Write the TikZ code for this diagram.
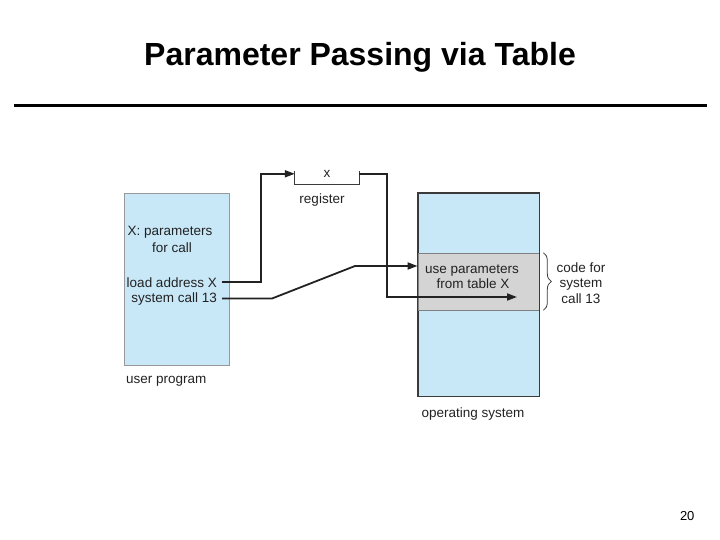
\documentclass[tikz,border=0pt]{standalone}
\usepackage{fontspec}
\setmainfont{Liberation Sans}
\usepackage{tikz}
\usetikzlibrary{arrows.meta}
\usetikzlibrary{decorations.pathreplacing}
\definecolor{memblue}{HTML}{C8E8F8}
\definecolor{bandgray}{HTML}{D4D4D4}
\definecolor{edgegray}{HTML}{3A3A3A}
\definecolor{inkgray}{HTML}{222222}

\begin{document}
\begin{tikzpicture}[x=1pt,y=-1pt,
	wire/.style={line width=1.8pt,draw=inkgray},
	tip/.style={-{Triangle[length=10pt,width=7pt]}},
	mem/.style={draw=edgegray,line width=0.8pt,fill=memblue,inner sep=0pt},
	lbl/.style={inner sep=0pt,text=inkgray,font=\fontsize{13.5}{16}\selectfont}]
	\useasboundingbox (0,0) rectangle (720,540);

	%title and rule
	\node[anchor=base,font=\bfseries\fontsize{32}{38}\selectfont] (title) at (360,66) {Parameter Passing via Table};
	\draw[line width=3.5pt] (14,105.5)--(707,105.5);

	%user program
	\node[mem,draw=gray!80,minimum width=105pt,minimum height=172pt] (user) at (176.5,279) {};
	\node[lbl,anchor=base] (xpar) at (170,236) {X: parameters};
	\node[lbl,anchor=base] (forcall) at (172,252) {for call};
	\node[lbl,anchor=base east] (load) at (217,287) {load address X};
	\node[lbl,anchor=base east] (syscall) at (217,302) {system call 13};
	\node[lbl,anchor=base west] (userlbl) at (126,383) {user program};

	%register
	\node[minimum width=64pt,minimum height=13pt,inner sep=0pt] (reg) at (327,177.5) {};
	\draw[line width=1pt,draw=edgegray] (reg.north west)--(reg.south west)--(reg.south east)--(reg.north east);
	\node[lbl,anchor=base] (regx) at (327,178) {x};
	\node[lbl,anchor=base] (reglbl) at (322,204) {register};

	%operating system
	\node[mem,minimum width=121pt,minimum height=203pt] (os) at (478.5,294.5) {};
	\node[mem,fill=bandgray,draw=gray,line width=0.6pt,minimum width=121pt,minimum height=57pt] (band) at (478.5,281.5) {};
	\draw[draw=edgegray,line width=0.8pt] (os.north west) rectangle (os.south east);
	\node[lbl,anchor=base] (usepar) at (472,273) {use parameters};
	\node[lbl,anchor=base] (fromtab) at (473,288) {from table X};
	\node[lbl,anchor=base] (oslbl) at (473,417) {operating system};

	%brace and its label
	\draw[draw=edgegray,line width=0.8pt,decorate,decoration={brace,amplitude=8pt}]
		([xshift=4pt]band.north east) -- ([xshift=4pt]band.south east);
	\node[lbl,anchor=base] (codefor) at (581,272) {code for};
	\node[lbl,anchor=base] (codesys) at (581,287) {system};
	\node[lbl,anchor=base] (codecall) at (581,303) {call 13};

	%wires
	\coordinate (regin) at ([yshift=-3pt]reg.north west);
	\coordinate (regout) at ([yshift=-3pt]reg.north east);
	\coordinate (kinklow) at (272,297);
	\coordinate (kinkhigh) at (355,266);
	\coordinate (tablex) at (517,297);
	\draw[wire,tip] ([xshift=5pt]load.east) -- ++(39,0) |- (regin);		%address into register
	\draw[wire,tip] (regout) -- ++(28,0) |- (tablex);					%register read by os
	\draw[wire,tip] ([xshift=5pt]syscall.east) -- (syscall.east -| kinklow) -- (kinkhigh) -- (kinkhigh -| os.west);	%trap

	%slide number
	\node[anchor=base east,font=\fontsize{13}{15}\selectfont] (pagenum) at (698,520) {20};
\end{tikzpicture}
\end{document}
